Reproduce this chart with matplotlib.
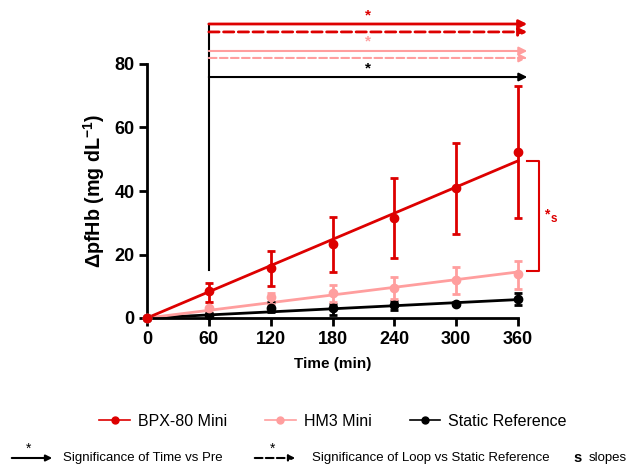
import matplotlib
matplotlib.use("Agg")
import matplotlib.pyplot as plt
import numpy as np

plt.rcParams['font.family'] = ['Liberation Sans', 'DejaVu Sans']
plt.rcParams['mathtext.fontset'] = 'custom'
plt.rcParams['mathtext.rm'] = 'Liberation Sans:bold'
plt.rcParams['mathtext.bf'] = 'Liberation Sans:bold'
plt.rcParams['mathtext.default'] = 'rm'

time = [0, 60, 120, 180, 240, 300, 360]
bpx_mean = [0, 8.5, 15.8, 23.2, 31.5, 41.0, 52.3]
bpx_lo = [0, 5.0, 10.0, 14.5, 19.0, 26.5, 31.5]
bpx_hi = [0, 11.0, 21.0, 31.8, 44.0, 55.0, 73.0]
hm3_mean = [0, 3.0, 6.5, 8.0, 9.5, 12.0, 14.0]
hm3_lo = [0, 1.5, 4.5, 5.0, 6.0, 7.5, 9.0]
hm3_hi = [0, 5.0, 8.0, 10.5, 13.0, 16.0, 18.0]
sta_mean = [0, 1.0, 3.2, 3.0, 4.0, 4.5, 6.0]
sta_lo = [0, 0.5, 2.0, 1.0, 2.5, 4.0, 4.0]
sta_hi = [0, 1.5, 5.0, 4.5, 5.5, 5.0, 8.0]
# fitted slopes (mg/dL per min), line through origin
slopes = {'bpx': 49.5 / 360, 'hm3': 14.5 / 360, 'sta': 5.8 / 360}

RED = '#DD0000'
PINK = '#FF9E9E'
BLACK = '#000000'

fig = plt.figure(figsize=(6.3, 4.67), dpi=100)
ax = fig.add_axes([147/630, 1-318/467, (518-147)/630, (318-64)/467])

series = [
    ('BPX-80 Mini', bpx_mean, bpx_lo, bpx_hi, slopes['bpx'], RED),
    ('HM3 Mini', hm3_mean, hm3_lo, hm3_hi, slopes['hm3'], PINK),
    ('Static Reference', sta_mean, sta_lo, sta_hi, slopes['sta'], BLACK),
]
for name, m, lo, hi, s, c in reversed(series):
    m = np.array(m); lo = np.array(lo); hi = np.array(hi)
    t = np.array(time)
    ax.errorbar(t, m, yerr=[m - lo, hi - m], fmt='o', color=c, ms=6,
                capsize=3, elinewidth=2, capthick=2, clip_on=False, zorder=3)
    xs = np.array([0, 360])
    ax.plot(xs, s * xs, color=c, lw=2, zorder=2, clip_on=False)
handles = [plt.Line2D([], [], color=c, marker='o', ms=5, lw=1.2, label=n)
           for n, _, _, _, _, c in series]

ax.set_xlim(0, 360)
ax.set_ylim(0, 80)
ax.set_xticks(time)
ax.set_yticks([0, 20, 40, 60, 80])
for sp in ['top', 'right']:
    ax.spines[sp].set_visible(False)
for sp in ['left', 'bottom']:
    ax.spines[sp].set_linewidth(2)
ax.tick_params(width=2, length=6, labelsize=13, pad=3)
for lab in ax.get_xticklabels() + ax.get_yticklabels():
    lab.set_fontweight('bold')
ax.set_xlabel('Time (min)', fontsize=11, fontweight='bold', labelpad=7)
ax.set_ylabel('ΔpfHb (mg dL$^{-1}$)', fontsize=14.2,
              fontweight='bold', labelpad=5)

# significance arrows above the plot
arrows = [(92.6, RED, '-', 95.4), (90.1, RED, '--', None),
          (84.1, PINK, '-', 87.0), (81.9, PINK, '--', None),
          (75.9, BLACK, '-', 78.7)]
for y, c, ls, sy in arrows:
    ax.annotate('', xy=(369, y), xytext=(60, y),
                arrowprops=dict(arrowstyle='-|>', color=c, lw=2 if c == RED else 1.5,
                                linestyle=ls, mutation_scale=12,
                                shrinkA=0, shrinkB=0),
                annotation_clip=False)
    if sy is not None:
        ax.text(214, sy, '*', color=c, ha='center', va='center',
                fontsize=11, fontweight='bold', clip_on=False)
ax.plot([60, 60], [15, 92.6], color=BLACK, lw=1.5, clip_on=False)

# bracket for slopes
ax.plot([369, 380.5, 380.5, 369], [49.4, 49.4, 14.8, 14.8], color=RED, lw=1.5,
        clip_on=False)
ax.text(385, 32.5, '*', color=RED, fontsize=10, fontweight='bold',
        va='center', ha='left', clip_on=False)
ax.text(392, 31.3, 's', color=RED, fontsize=8.5, fontweight='bold',
        va='center', ha='left', clip_on=False)

# legend row 1
fig.legend(handles=handles, loc='center', bbox_to_anchor=(333/630, 1-421/467),
           ncol=3, frameon=False, fontsize=11.5, handlelength=1.9,
           columnspacing=2.4, handletextpad=0.5)

# legend row 2 (custom)
yb = 1 - 458/467
ys = 1 - 449/467
fig.patches.append(matplotlib.patches.FancyArrowPatch(
    (9/630, yb), (55/630, yb), transform=fig.transFigure,
    arrowstyle='-|>', mutation_scale=9, color=BLACK, lw=1.5))
fig.text(29/630, ys, '*', fontsize=10, ha='center', va='center')
fig.text(63/630, yb, 'Significance of Time vs Pre', fontsize=9.5, va='center')
fig.patches.append(matplotlib.patches.FancyArrowPatch(
    (252/630, yb), (298/630, yb), transform=fig.transFigure,
    arrowstyle='-|>', mutation_scale=9, color=BLACK, lw=1.5, linestyle='--'))
fig.text(273/630, ys, '*', fontsize=10, ha='center', va='center')
fig.text(312/630, yb, 'Significance of Loop vs Static Reference', fontsize=9.5,
         va='center')
fig.text(573/630, yb, 's', fontsize=10.5, fontweight='bold', va='center')
fig.text(589/630, yb, 'slopes', fontsize=9.5, va='center')

fig.savefig('out.png', dpi=100)
